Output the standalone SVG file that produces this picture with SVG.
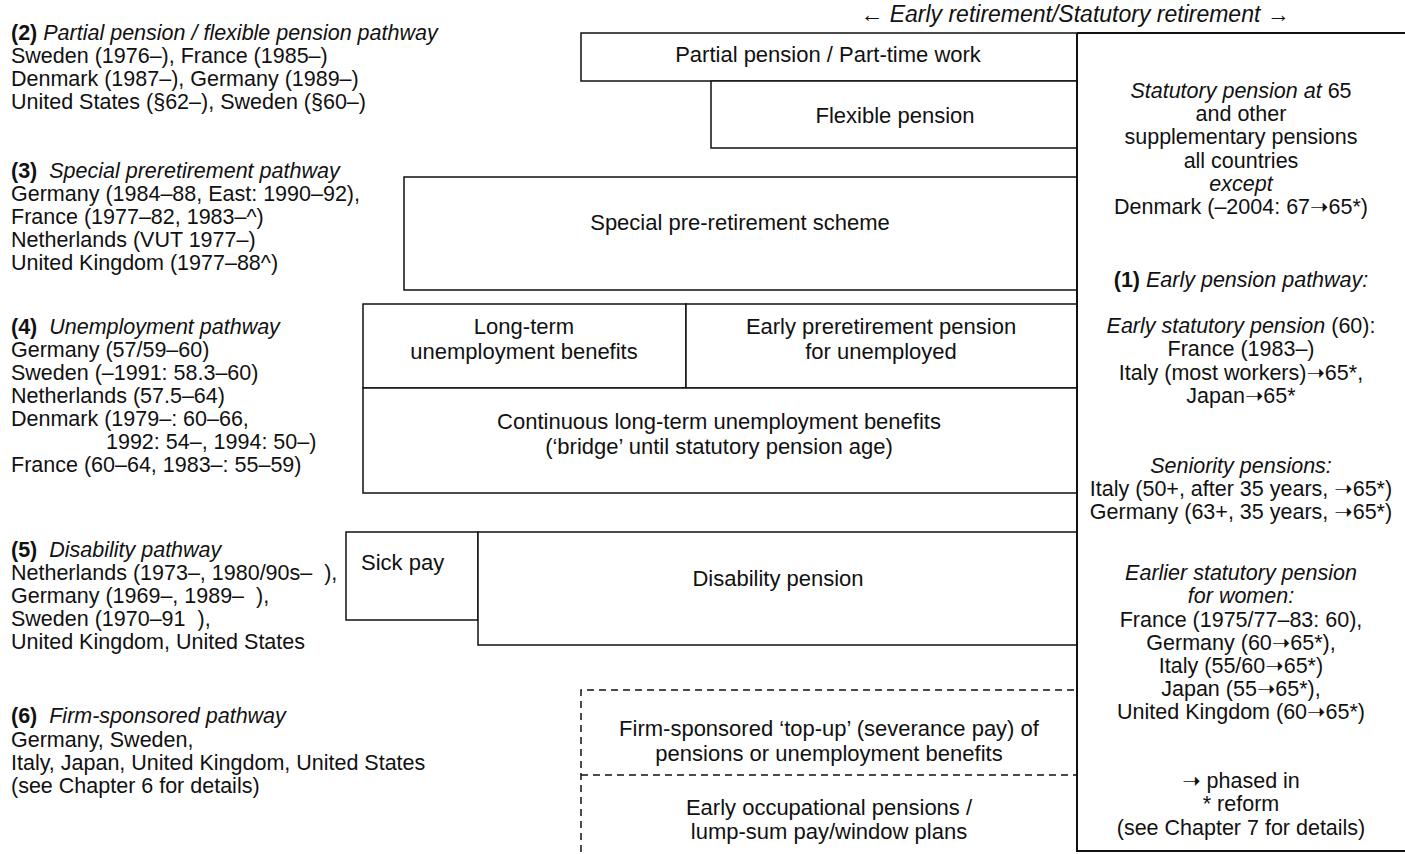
<svg xmlns="http://www.w3.org/2000/svg" width="1405" height="854" viewBox="0 0 1405 854">
  <style>
    text { font-family: "Liberation Sans", Arial, Helvetica, sans-serif; font-size: 21.5px; fill: #111; white-space: pre; }
    .c { text-anchor: middle; }
    .i { font-style: italic; }
    .b { font-weight: bold; }
    .lbl { font-size: 22px; }
    .ar { font-family: "DejaVu Sans", sans-serif; font-size: 22px; }
    .box { fill: #fff; stroke: #111; stroke-width: 1.5; }
    .dash { fill: none; stroke: #111; stroke-width: 1.5; stroke-dasharray: 7 5; }
    .axis { stroke: #111; stroke-width: 2; fill: none; }
  </style>
  <rect width="1405" height="854" fill="#fff"/>

  <!-- header -->
  <text id="header" class="c i" x="1075" y="22" style="font-size:23px">← Early retirement/Statutory retirement →</text>

  <!-- pathway legends on the left -->
  <g id="legend-2">
    <text x="11" y="40"><tspan class="b">(2)</tspan><tspan class="i"> Partial pension / flexible pension pathway</tspan></text>
    <text x="11" y="63">Sweden (1976–), France (1985–)</text>
    <text x="11" y="86">Denmark (1987–), Germany (1989–)</text>
    <text x="11" y="109">United States (§62–), Sweden (§60–)</text>
  </g>
  <g id="legend-3">
    <text x="11" y="178"><tspan class="b">(3)</tspan><tspan class="i">  Special preretirement pathway</tspan></text>
    <text x="11" y="201">Germany (1984–88, East: 1990–92),</text>
    <text x="11" y="224">France (1977–82, 1983–^)</text>
    <text x="11" y="247">Netherlands (VUT 1977–)</text>
    <text x="11" y="270">United Kingdom (1977–88^)</text>
  </g>
  <g id="legend-4">
    <text x="11" y="334"><tspan class="b">(4)</tspan><tspan class="i">  Unemployment pathway</tspan></text>
    <text x="11" y="357">Germany (57/59–60)</text>
    <text x="11" y="380">Sweden (–1991: 58.3–60)</text>
    <text x="11" y="403">Netherlands (57.5–64)</text>
    <text x="11" y="426">Denmark (1979–: 60–66,</text>
    <text x="106" y="449">1992: 54–, 1994: 50–)</text>
    <text x="11" y="472">France (60–64, 1983–: 55–59)</text>
  </g>
  <g id="legend-5">
    <text x="11" y="557"><tspan class="b">(5)</tspan><tspan class="i">  Disability pathway</tspan></text>
    <text x="11" y="580">Netherlands (1973–, 1980/90s–  ),</text>
    <text x="11" y="603">Germany (1969–, 1989–  ),</text>
    <text x="11" y="626">Sweden (1970–91  ),</text>
    <text x="11" y="649">United Kingdom, United States</text>
  </g>
  <g id="legend-6">
    <text x="11" y="723"><tspan class="b">(6)</tspan><tspan class="i">  Firm-sponsored pathway</tspan></text>
    <text x="11" y="747">Germany, Sweden,</text>
    <text x="11" y="770">Italy, Japan, United Kingdom, United States</text>
    <text x="11" y="793">(see Chapter 6 for details)</text>
  </g>

  <!-- pathway boxes -->
  <g id="partial-pension">
    <rect class="box" x="581" y="33" width="496" height="48"/>
    <text class="c lbl" x="828" y="62">Partial pension / Part-time work</text>
  </g>
  <g id="flexible-pension">
    <rect class="box" x="711" y="81" width="366" height="67"/>
    <text class="c lbl" x="895" y="123">Flexible pension</text>
  </g>
  <g id="special-preretirement">
    <rect class="box" x="404" y="177" width="673" height="113"/>
    <text class="c lbl" x="740" y="230">Special pre-retirement scheme</text>
  </g>
  <g id="long-term-unemployment">
    <rect class="box" x="363" y="304" width="323" height="84"/>
    <text class="c lbl" x="524" y="334">Long-term</text>
    <text class="c lbl" x="524" y="359">unemployment benefits</text>
  </g>
  <g id="early-preretirement-unemployed">
    <rect class="box" x="686" y="304" width="391" height="84"/>
    <text class="c lbl" x="881" y="334">Early preretirement pension</text>
    <text class="c lbl" x="881" y="359">for unemployed</text>
  </g>
  <g id="continuous-unemployment">
    <rect class="box" x="363" y="388" width="714" height="105"/>
    <text class="c lbl" x="719" y="429">Continuous long-term unemployment benefits</text>
    <text class="c lbl" x="719" y="454">(‘bridge’ until statutory pension age)</text>
  </g>
  <g id="sick-pay">
    <rect class="box" x="346" y="532" width="132" height="88"/>
    <text class="lbl" x="361" y="570">Sick pay</text>
  </g>
  <g id="disability-pension">
    <rect class="box" x="478" y="532" width="599" height="113"/>
    <text class="c lbl" x="778" y="586">Disability pension</text>
  </g>
  <g id="firm-top-up">
    <path class="dash" d="M581 852 V690 H1077 M581 775 H1077"/>
    <text class="c lbl" x="829" y="736">Firm-sponsored ‘top-up’ (severance pay) of</text>
    <text class="c lbl" x="829" y="761">pensions or unemployment benefits</text>
  </g>
  <g id="early-occupational">
    <text class="c lbl" x="829" y="815">Early occupational pensions /</text>
    <text class="c lbl" x="829" y="839">lump-sum pay/window plans</text>
  </g>

  <!-- statutory retirement panel -->
  <g id="statutory-panel">
    <path class="axis" d="M1077 33 H1405 M1077 33 V852 M1077 851 H1405"/>
    <text class="c" x="1241" y="98"><tspan class="i">Statutory pension at </tspan>65</text>
    <text class="c" x="1241" y="121">and other</text>
    <text class="c" x="1241" y="144">supplementary pensions</text>
    <text class="c" x="1241" y="168">all countries</text>
    <text class="c i" x="1241" y="191">except</text>
    <text class="c" x="1241" y="214">Denmark (–2004: 67<tspan class="ar">➝</tspan>65*)</text>
    <text class="c" x="1241" y="287"><tspan class="b">(1)</tspan><tspan class="i"> Early pension pathway:</tspan></text>
    <text class="c" x="1241" y="333"><tspan class="i">Early statutory pension</tspan> (60):</text>
    <text class="c" x="1241" y="356">France (1983–)</text>
    <text class="c" x="1241" y="380">Italy (most workers)<tspan class="ar">➝</tspan>65*,</text>
    <text class="c" x="1241" y="403">Japan<tspan class="ar">➝</tspan>65*</text>
    <text class="c i" x="1241" y="473">Seniority pensions:</text>
    <text class="c" x="1241" y="496">Italy (50+, after 35 years, <tspan class="ar">➝</tspan>65*)</text>
    <text class="c" x="1241" y="519">Germany (63+, 35 years, <tspan class="ar">➝</tspan>65*)</text>
    <text class="c i" x="1241" y="580">Earlier statutory pension</text>
    <text class="c i" x="1241" y="603">for women:</text>
    <text class="c" x="1241" y="627">France (1975/77–83: 60),</text>
    <text class="c" x="1241" y="650">Germany (60<tspan class="ar">➝</tspan>65*),</text>
    <text class="c" x="1241" y="673">Italy (55/60<tspan class="ar">➝</tspan>65*)</text>
    <text class="c" x="1241" y="696">Japan (55<tspan class="ar">➝</tspan>65*),</text>
    <text class="c" x="1241" y="719">United Kingdom (60<tspan class="ar">➝</tspan>65*)</text>
    <text class="c" x="1241" y="788"><tspan class="ar">➝</tspan> phased in</text>
    <text class="c" x="1241" y="811">* reform</text>
    <text class="c" x="1241" y="835">(see Chapter 7 for details)</text>
  </g>
</svg>
